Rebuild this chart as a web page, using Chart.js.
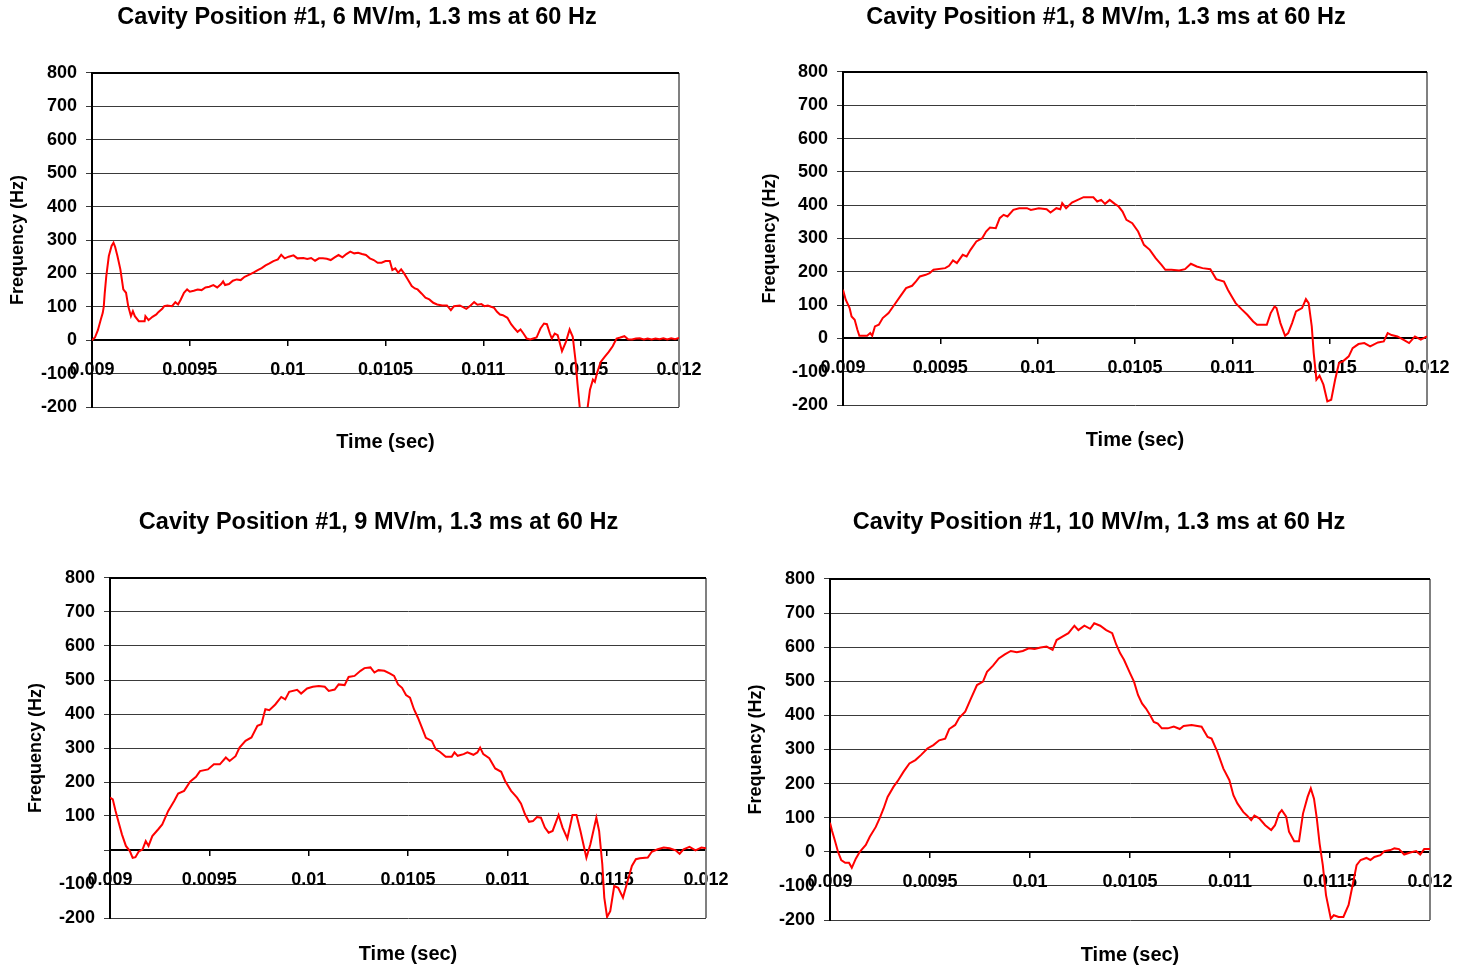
<!DOCTYPE html>
<html><head><meta charset="utf-8">
<script src="https://cdn.jsdelivr.net/npm/chart.js@4/dist/chart.umd.min.js"></script>
<style>
html,body{margin:0;padding:0;background:#fff;width:1470px;height:969px;overflow:hidden}
canvas{position:absolute;display:block}
</style></head><body>
<canvas id="c1"></canvas><canvas id="c2"></canvas><canvas id="c3"></canvas><canvas id="c4"></canvas>
<script>
// ---------- data ----------
const titles = [
  'Cavity Position #1, 6 MV/m, 1.3 ms at 60 Hz',
  'Cavity Position #1, 8 MV/m, 1.3 ms at 60 Hz',
  'Cavity Position #1, 9 MV/m, 1.3 ms at 60 Hz',
  'Cavity Position #1, 10 MV/m, 1.3 ms at 60 Hz'
];
const xAxisTitle = 'Time (sec)';
const yAxisTitle = 'Frequency (Hz)';
const xTickValues = [0.009, 0.0095, 0.01, 0.0105, 0.011, 0.0115, 0.012];
const yTickValues = [-200, -100, 0, 100, 200, 300, 400, 500, 600, 700, 800];
const yTickLabels = ['-200', '-100', '0', '100', '200', '300', '400', '500', '600', '700', '800'];
const yTickLabelsNoZero = ['-200', '-100', '', '100', '200', '300', '400', '500', '600', '700', '800'];

// Chart 1: 6 MV/m
const t1 = [0.009000,0.009015,0.009030,0.009045,0.009055,0.009060,0.009065,0.009073,0.009086,0.009100,
0.009110,0.009118,0.009130,0.009145,0.009160,0.009174,0.009185,0.009199,0.009209,0.009219,
0.009239,0.009269,0.009273,0.009289,0.009309,0.009329,0.009339,0.009359,0.009369,0.009385,
0.009409,0.009426,0.009440,0.009454,0.009470,0.009486,0.009500,0.009520,0.009540,0.009560,
0.009580,0.009600,0.009620,0.009640,0.009660,0.009670,0.009680,0.009700,0.009720,0.009740,
0.009760,0.009780,0.009807,0.009827,0.009847,0.009867,0.009887,0.009907,0.009927,0.009950,
0.009967,0.009985,0.010005,0.010030,0.010050,0.010080,0.010100,0.010120,0.010140,0.010160,
0.010180,0.010200,0.010220,0.010240,0.010260,0.010280,0.010300,0.010320,0.010340,0.010360,
0.010380,0.010400,0.010420,0.010440,0.010460,0.010480,0.010500,0.010522,0.010535,0.010550,
0.010565,0.010580,0.010595,0.010614,0.010634,0.010650,0.010664,0.010684,0.010704,0.010724,
0.010744,0.010764,0.010790,0.010814,0.010834,0.010850,0.010880,0.010913,0.010935,0.010953,
0.010970,0.010990,0.011005,0.011023,0.011040,0.011055,0.011070,0.011085,0.011100,0.011123,
0.011142,0.011160,0.011175,0.011190,0.011205,0.011222,0.011240,0.011255,0.011272,0.011292,
0.011310,0.011325,0.011340,0.011350,0.011365,0.011380,0.011402,0.011422,0.011441,0.011457,
0.011471,0.011481,0.011495,0.011530,0.011545,0.011560,0.011570,0.011581,0.011600,0.011620,
0.011641,0.011661,0.011681,0.011700,0.011721,0.011740,0.011760,0.011780,0.011800,0.011820,
0.011840,0.011860,0.011880,0.011900,0.011920,0.011940,0.011960,0.011980,0.012000];
const f1 = [0,8,30,62,82,100,140,192,252,282,
292,280,252,212,152,142,102,72,87,72,
57,57,72,60,70,77,84,94,102,104,
102,114,107,122,142,152,145,148,152,150,
158,160,165,158,168,176,165,168,178,182,
180,190,197,203,210,216,224,230,237,242,
256,245,250,254,245,246,243,246,238,245,
245,244,240,248,255,248,258,265,260,262,
258,255,245,240,232,232,237,237,210,215,
202,212,200,182,162,155,152,140,127,122,
112,107,104,104,90,102,104,94,104,114,
106,108,102,104,100,97,85,77,75,67,
48,35,25,32,20,5,2,5,8,35,
50,48,20,5,20,15,-33,-5,32,10,
-60,-130,-215,-215,-148,-118,-125,-98,-65,-50,
-35,-18,5,8,12,3,2,5,6,2,
5,2,5,3,6,2,6,3,7];

// Chart 2: 8 MV/m
const t2 = [0.009000,0.009014,0.009034,0.009044,0.009060,0.009074,0.009084,0.009124,0.009140,0.009150,
0.009164,0.009184,0.009204,0.009234,0.009264,0.009294,0.009324,0.009355,0.009375,0.009395,
0.009425,0.009445,0.009465,0.009525,0.009545,0.009565,0.009585,0.009615,0.009635,0.009655,
0.009685,0.009715,0.009735,0.009755,0.009785,0.009805,0.009825,0.009845,0.009875,0.009905,
0.009945,0.009965,0.010006,0.010046,0.010066,0.010096,0.010116,0.010126,0.010146,0.010176,
0.010206,0.010236,0.010286,0.010306,0.010326,0.010346,0.010370,0.010396,0.010416,0.010436,
0.010456,0.010486,0.010516,0.010546,0.010576,0.010606,0.010636,0.010656,0.010687,0.010727,
0.010757,0.010787,0.010817,0.010847,0.010887,0.010917,0.010957,0.010977,0.010997,0.011017,
0.011047,0.011077,0.011107,0.011127,0.011147,0.011177,0.011197,0.011217,0.011227,0.011247,
0.011271,0.011287,0.011307,0.011327,0.011358,0.011378,0.011392,0.011408,0.011418,0.011432,
0.011448,0.011468,0.011488,0.011508,0.011528,0.011548,0.011568,0.011598,0.011618,0.011648,
0.011678,0.011708,0.011748,0.011778,0.011798,0.011818,0.011848,0.011878,0.011908,0.011938,
0.011968,0.012000];
const f2 = [146,116,91,66,56,26,8,8,16,8,
36,41,61,76,101,126,151,158,171,186,
191,196,206,211,218,234,226,251,246,266,
291,301,321,333,331,361,371,366,386,391,
391,386,391,388,378,391,388,406,391,408,
416,424,424,411,416,404,416,404,396,381,
356,346,321,281,266,241,221,206,206,204,
208,224,216,211,208,178,171,146,126,106,
88,71,51,41,41,41,76,96,91,46,
8,16,46,81,91,118,106,36,-44,-124,
-112,-139,-189,-184,-124,-74,-69,-54,-29,-17,
-14,-24,-12,-9,16,10,6,-4,-14,6,
-4,6];

// Chart 3: 9 MV/m
const t3 = [0.009000,0.009014,0.009028,0.009044,0.009060,0.009080,0.009100,0.009114,0.009128,0.009144,
0.009164,0.009180,0.009194,0.009213,0.009243,0.009263,0.009293,0.009323,0.009343,0.009373,
0.009403,0.009433,0.009453,0.009493,0.009523,0.009553,0.009583,0.009602,0.009632,0.009652,
0.009682,0.009712,0.009742,0.009762,0.009782,0.009802,0.009832,0.009862,0.009882,0.009902,
0.009942,0.009962,0.009992,0.010021,0.010051,0.010081,0.010101,0.010131,0.010151,0.010181,
0.010201,0.010231,0.010261,0.010281,0.010311,0.010331,0.010351,0.010381,0.010410,0.010430,
0.010450,0.010470,0.010490,0.010510,0.010530,0.010550,0.010570,0.010590,0.010620,0.010640,
0.010660,0.010690,0.010720,0.010734,0.010750,0.010780,0.010799,0.010829,0.010849,0.010863,
0.010879,0.010909,0.010939,0.010969,0.010989,0.011019,0.011049,0.011069,0.011089,0.011109,
0.011129,0.011149,0.011169,0.011189,0.011208,0.011228,0.011258,0.011278,0.011302,0.011328,
0.011348,0.011368,0.011398,0.011418,0.011448,0.011462,0.011478,0.011488,0.011502,0.011518,
0.011538,0.011558,0.011582,0.011601,0.011627,0.011647,0.011667,0.011707,0.011727,0.011757,
0.011787,0.011817,0.011847,0.011867,0.011887,0.011917,0.011947,0.011977,0.012000];
const f3 = [154,149,115,80,46,12,-3,-23,-21,-5,
2,26,12,41,61,75,115,144,166,174,
201,215,232,237,252,252,272,262,276,301,
321,331,365,370,414,411,428,450,443,465,
471,460,475,480,482,480,468,472,487,485,
509,512,527,535,537,522,529,527,519,512,
487,477,456,448,414,389,360,330,321,296,
289,274,274,287,277,282,287,280,287,301,
282,270,240,230,203,174,154,136,105,83,
85,97,95,66,51,56,103,66,34,103,
103,56,-23,17,95,56,-42,-140,-197,-180,
-106,-111,-140,-101,-47,-27,-24,-22,-5,2,
7,5,-1,-11,2,9,-1,7,5];

// Chart 4: 10 MV/m
const t4 = [0.009000,0.009010,0.009024,0.009040,0.009056,0.009076,0.009095,0.009109,0.009129,0.009149,
0.009179,0.009199,0.009229,0.009248,0.009268,0.009288,0.009318,0.009338,0.009368,0.009397,
0.009427,0.009457,0.009487,0.009517,0.009546,0.009576,0.009596,0.009626,0.009646,0.009676,
0.009705,0.009735,0.009765,0.009785,0.009815,0.009844,0.009874,0.009904,0.009934,0.009964,
0.009994,0.010023,0.010053,0.010083,0.010113,0.010133,0.010162,0.010192,0.010222,0.010242,
0.010272,0.010301,0.010321,0.010351,0.010381,0.010411,0.010431,0.010451,0.010470,0.010500,
0.010520,0.010540,0.010560,0.010580,0.010600,0.010619,0.010639,0.010659,0.010689,0.010719,
0.010749,0.010768,0.010808,0.010858,0.010888,0.010908,0.010937,0.010967,0.010997,0.011017,
0.011037,0.011066,0.011086,0.011106,0.011122,0.011146,0.011176,0.011206,0.011225,0.011245,
0.011259,0.011281,0.011295,0.011321,0.011345,0.011365,0.011388,0.011404,0.011420,0.011434,
0.011448,0.011464,0.011480,0.011504,0.011519,0.011543,0.011567,0.011593,0.011613,0.011633,
0.011653,0.011682,0.011702,0.011722,0.011752,0.011772,0.011802,0.011822,0.011845,0.011871,
0.011901,0.011931,0.011951,0.011971,0.012000];
const f4 = [85,62,34,0,-24,-32,-32,-47,-20,0,
20,44,73,98,127,161,191,207,235,259,
269,285,303,313,327,332,360,372,393,411,
450,489,499,528,546,567,579,589,585,589,
597,595,599,602,592,621,631,641,663,650,
663,654,670,663,650,641,608,582,563,524,
499,460,435,420,401,381,376,362,362,367,
360,369,372,367,337,332,293,244,210,166,
142,117,106,93,106,98,78,64,78,112,
122,103,59,31,31,112,161,186,156,98,
24,-39,-127,-196,-186,-191,-191,-156,-98,-39,
-24,-18,-24,-15,-10,2,5,10,8,-8,
-2,2,-8,8,8];

// ---------- layout (canvas boxes and plot areas in page pixels) ----------
const panels = [
  {id:'c1', t:t1, f:f1, title:titles[0], yLabels:yTickLabels, left:0,   top:0,   width:714, height:470, plotLeft:92,  plotRight:679,  plotTop:73,  plotBottom:407, titleY:18,  xTitleY:442, yTitleX:18},
  {id:'c2', t:t2, f:f2, title:titles[1], yLabels:yTickLabels, left:752, top:0,   width:708, height:470, plotLeft:843, plotRight:1427, plotTop:72,  plotBottom:405, titleY:18,  xTitleY:440, yTitleX:770},
  {id:'c3', t:t3, f:f3, title:titles[2], yLabels:yTickLabelsNoZero, left:18,  top:490, width:721, height:479, plotLeft:110, plotRight:706,  plotTop:578, plotBottom:918, titleY:523, xTitleY:954, yTitleX:36},
  {id:'c4', t:t4, f:f4, title:titles[3], yLabels:yTickLabels, left:738, top:490, width:722, height:479, plotLeft:830, plotRight:1430, plotTop:579, plotBottom:920, titleY:523, xTitleY:955, yTitleX:756}
];

const FONT = '"Liberation Sans", Arial, Helvetica, sans-serif';
const TITLE_SIZE = 23.5, XT_SIZE = 20, YT_SIZE = 18, TICK_SIZE = 18;

const framePlugin = {
  id: 'frame',
  beforeDatasetsDraw(chart) {
    const a = chart.chartArea, ctx = chart.ctx;
    ctx.save();
    ctx.strokeStyle = '#808080';
    ctx.lineWidth = 2;
    ctx.beginPath();
    ctx.moveTo(a.right, a.top);
    ctx.lineTo(a.right, a.bottom);
    ctx.stroke();
    ctx.strokeStyle = '#000';
    ctx.lineWidth = 2;
    ctx.beginPath();
    ctx.moveTo(a.left, a.top);
    ctx.lineTo(a.right, a.top);
    ctx.stroke();
    ctx.restore();
  }
};

panels.forEach(p => {
  const cv = document.getElementById(p.id);
  cv.width = p.width; cv.height = p.height;
  cv.style.left = p.left + 'px'; cv.style.top = p.top + 'px';
  cv.style.width = p.width + 'px'; cv.style.height = p.height + 'px';

  const tLH = TITLE_SIZE * 1.2;
  const tPadTop = p.titleY - p.top - tLH / 2;
  const tPadBottom = (p.plotTop - p.top) - tPadTop - tLH;
  const xLH = XT_SIZE * 1.2;
  const xPadBottom = p.height - (p.xTitleY - p.top) - xLH / 2;
  const xPadTop = p.height - (p.plotBottom - p.top) - xLH - xPadBottom;
  const yLH = YT_SIZE * 1.2;
  const yPadTop = p.yTitleX - p.left - yLH / 2;
  const yWidth = p.plotLeft - p.left;
  const rightWidth = p.left + p.width - p.plotRight;

  const points = p.t.map((tv, i) => ({x: tv, y: p.f[i]}));

  new Chart(cv, {
    type: 'line',
    data: { datasets: [{
      data: points,
      borderColor: '#ff0000',
      borderWidth: 2,
      pointRadius: 0,
      tension: 0,
      fill: false,
      xAxisID: 'x', yAxisID: 'y'
    }]},
    options: {
      responsive: false,
      animation: false,
      devicePixelRatio: 1,
      layout: { padding: 0 },
      plugins: {
        legend: { display: false },
        tooltip: { enabled: false },
        title: {
          display: true, text: p.title, color: '#000',
          font: { family: FONT, size: TITLE_SIZE, weight: 'bold' },
          padding: { top: tPadTop, bottom: tPadBottom }
        }
      },
      scales: {
        x: {
          type: 'linear', position: { y: 0 }, min: 0.009, max: 0.012,
          afterBuildTicks: s => { s.ticks = xTickValues.map(v => ({value: v})); },
          afterFit: s => { s.paddingLeft = 0; s.paddingRight = 0; },
          ticks: {
            autoSkip: false, maxRotation: 0, minRotation: 0, padding: 14, color: '#000',
            font: { family: FONT, size: TICK_SIZE, weight: 'bold' },
            callback: v => String(v)
          },
          grid: { drawOnChartArea: false, drawTicks: true, tickLength: 5, color: '#000', lineWidth: 1.5 },
          border: { display: true, color: '#000', width: 2 }
        },
        xt: {
          type: 'linear', position: 'bottom', min: 0.009, max: 0.012,
          afterFit: s => { s.paddingLeft = 0; s.paddingRight = 0; },
          ticks: { display: false },
          grid: { display: false, drawTicks: false },
          border: { display: false },
          title: {
            display: true, text: xAxisTitle, color: '#000',
            font: { family: FONT, size: XT_SIZE, weight: 'bold' },
            padding: { top: xPadTop, bottom: xPadBottom }
          }
        },
        yr: {
          type: 'linear', position: 'right', min: -200, max: 800,
          afterFit: s => { s.width = rightWidth; },
          ticks: { display: false },
          grid: { display: false, drawTicks: false },
          border: { display: false }
        },
        y: {
          type: 'linear', position: 'left', min: -200, max: 800,
          afterBuildTicks: s => { s.ticks = yTickValues.map(v => ({value: v})); },
          afterFit: s => { s.width = yWidth; },
          ticks: {
            padding: 9, color: '#000',
            font: { family: FONT, size: TICK_SIZE, weight: 'bold' },
            callback: (v, i) => p.yLabels[yTickValues.indexOf(v)]
          },
          grid: { drawOnChartArea: true, drawTicks: true, tickLength: 6, color: '#3a3a3a', lineWidth: 1 },
          border: { display: true, color: '#000', width: 2 },
          title: {
            display: true, text: yAxisTitle, color: '#000',
            font: { family: FONT, size: YT_SIZE, weight: 'bold' },
            padding: { top: yPadTop, bottom: 0 }
          }
        }
      }
    },
    plugins: [framePlugin]
  });
});
</script>
</body></html>
